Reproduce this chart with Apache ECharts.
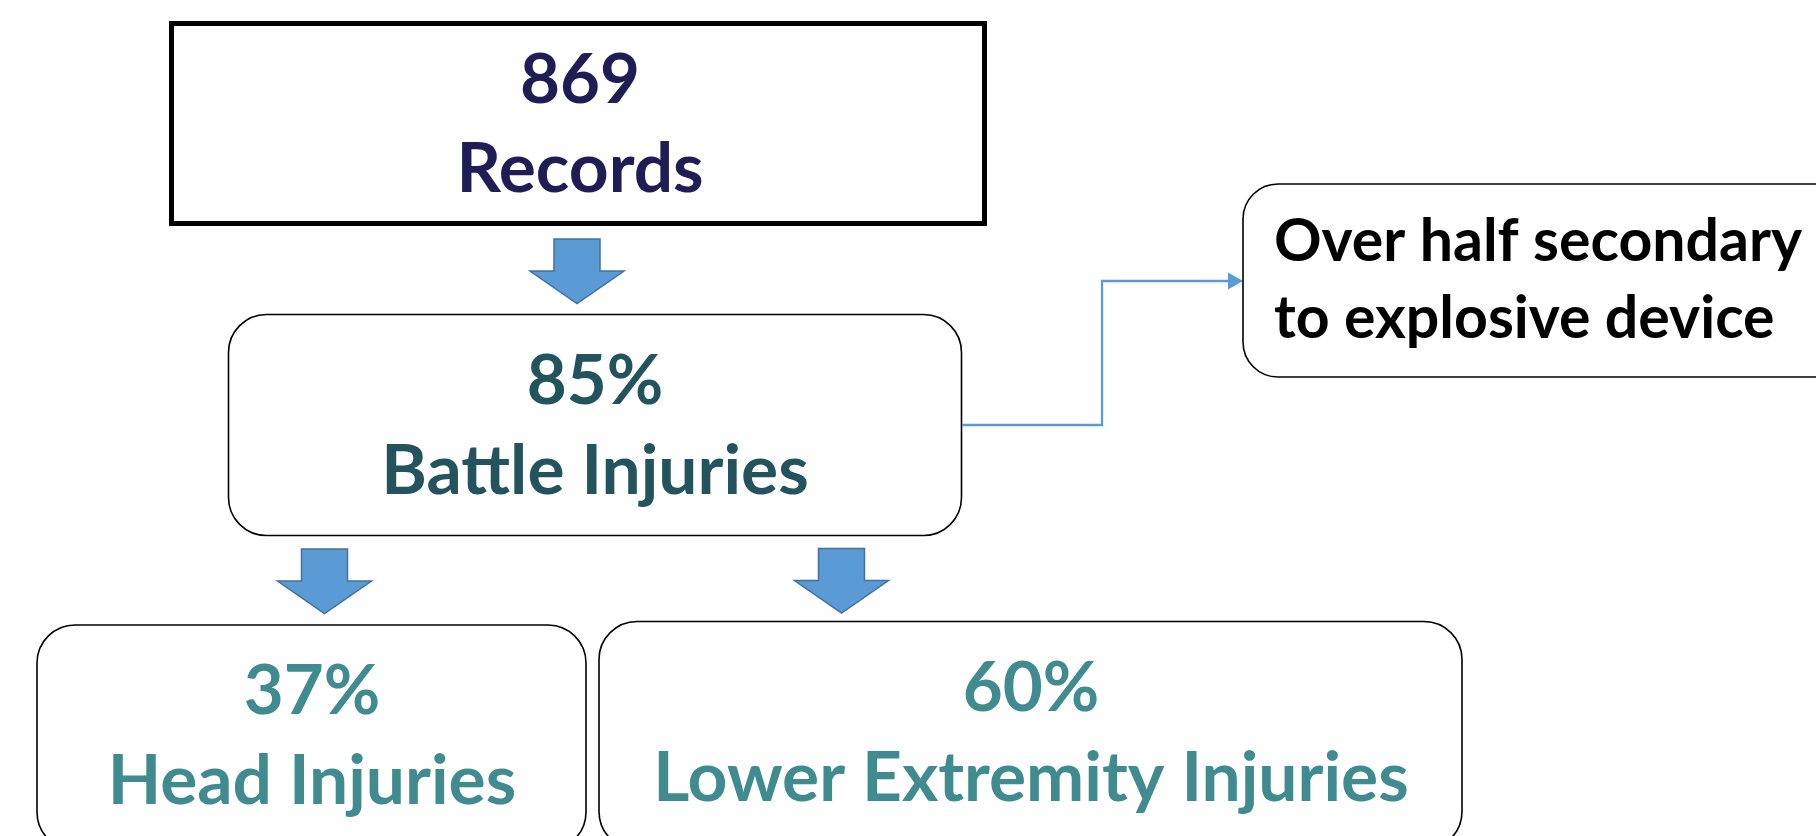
<!DOCTYPE html>
<html>
<head>
<meta charset="utf-8">
<script src="https://cdn.jsdelivr.net/npm/echarts@6/dist/echarts.min.js"></script>
<style>
html,body{margin:0;padding:0;background:#fff;}
#chart{width:1816px;height:836px;}
</style>
</head>
<body>
<div id="chart"></div>
<script>
// ---- data ----
const stageValues = ['869', '85%', '37%', '60%'];
const stageLabels = ['Records', 'Battle Injuries', 'Head Injuries', 'Lower Extremity Injuries'];
const noteLines = ['Over half secondary', 'to explosive device'];

// ---- layout (pixels) ----
const FONT = 'Lato, "Open Sans", sans-serif';
const boxes = [
  {x: 171.5, y: 23.5, w: 813, h: 200, r: 0, lw: 5, cx: 580, y1: 81, y2: 170, color: '#1F1D54'},
  {x: 228.5, y: 314.5, w: 733, h: 221, r: 38, lw: 1.6, cx: 595, y1: 381.5, y2: 471.5, color: '#23545E'},
  {x: 37, y: 625, w: 549, h: 225, r: 38, lw: 1.6, cx: 312, y1: 692, y2: 781.5, color: '#3F8B90'},
  {x: 599, y: 621.5, w: 863, h: 228, r: 38, lw: 1.6, cx: 1031, y1: 688.5, y2: 778.5, color: '#3F8B90'}
];
const arrows = [
  {cx: 577, top: 239},
  {cx: 324.5, top: 549},
  {cx: 841.5, top: 548.5}
];

function blockArrow(a) {
  const sw = 23, hw = 47, sh = 32, hh = 32.5;
  return {
    type: 'polygon',
    shape: {points: [
      [a.cx - sw, a.top], [a.cx + sw, a.top], [a.cx + sw, a.top + sh],
      [a.cx + hw, a.top + sh], [a.cx, a.top + sh + hh], [a.cx - hw, a.top + sh],
      [a.cx - sw, a.top + sh]
    ]},
    style: {fill: '#5B9BD5', stroke: '#41719C', lineWidth: 1.5}
  };
}

const elements = [];
boxes.forEach(function (b, i) {
  elements.push({
    type: 'rect',
    shape: {x: b.x, y: b.y, width: b.w, height: b.h, r: b.r},
    style: {fill: '#fff', stroke: '#000', lineWidth: b.lw}
  });
  elements.push({
    type: 'text', x: b.cx, y: b.y1,
    style: {text: stageValues[i], fill: b.color, font: 'bold 69px ' + FONT, align: 'center', verticalAlign: 'middle'}
  });
  elements.push({
    type: 'text', x: b.cx, y: b.y2,
    style: {text: stageLabels[i], fill: b.color, font: 'bold 69.5px ' + FONT, align: 'center', verticalAlign: 'middle'}
  });
});
arrows.forEach(function (a) { elements.push(blockArrow(a)); });

// connector to note
elements.push({
  type: 'polyline',
  shape: {points: [[962, 425], [1102, 425], [1102, 281], [1231, 281]]},
  style: {stroke: '#5B9BD5', lineWidth: 2.3, fill: null}
});
elements.push({
  type: 'polygon',
  shape: {points: [[1228, 272.5], [1243, 281], [1228, 289.5]]},
  style: {fill: '#5B9BD5'}
});
// note box
elements.push({
  type: 'rect',
  shape: {x: 1243, y: 184, width: 700, height: 193, r: 35},
  style: {fill: '#fff', stroke: '#000', lineWidth: 1.6}
});
noteLines.forEach(function (t, i) {
  elements.push({
    type: 'text', x: 1274, y: 242 + i * 77,
    style: {text: t, fill: '#000', font: 'bold 59px ' + FONT, align: 'left', verticalAlign: 'middle'}
  });
});

const chart = echarts.init(document.getElementById('chart'));
chart.setOption({
  backgroundColor: '#fff',
  animation: false,
  graphic: {elements: elements}
});
</script>
</body>
</html>
